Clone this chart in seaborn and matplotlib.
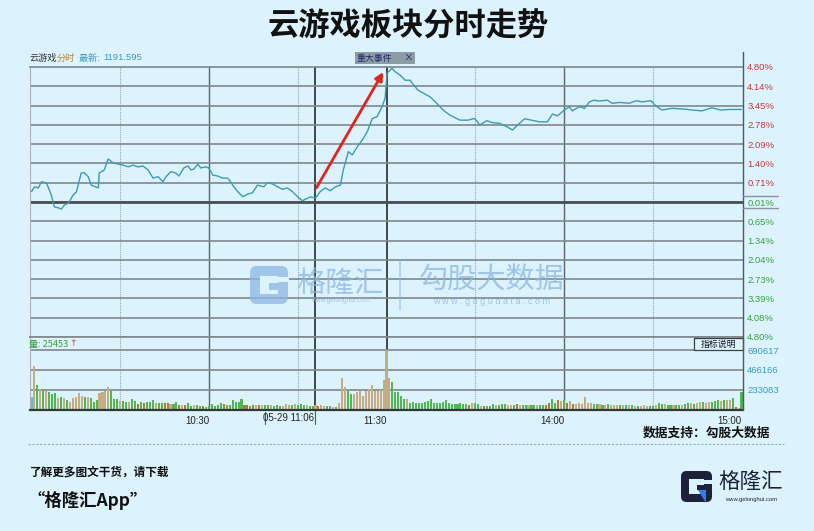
import matplotlib
matplotlib.use("Agg")
import matplotlib.pyplot as plt
from matplotlib.patches import Rectangle, FancyBboxPatch, Polygon
import numpy as np
import pandas as pd
import seaborn as sns

sns.set_style("white")
plt.rcParams["font.family"] = ["Noto Sans CJK SC", "DejaVu Sans"]

# ---- data ----
price_min = [0, 1.0, 2.3, 3.4, 5.1, 6.7, 7.7, 9.1, 10.1, 11.1, 12.5, 14.1, 15.2, 16.8, 17.8,
             19.2, 20.2, 22.6, 22.9, 24.6, 25.9, 27.6, 29.3, 31.0, 32.7, 34.3, 36.0, 37.7,
             39.4, 41.1, 42.8, 44.4, 45.5, 47.1, 48.8, 49.8, 51.5, 52.9, 53.9, 54.9, 56.2,
             57.2, 58.9, 59.9, 61.3, 63.0, 64.6, 66.3, 67.3, 68.4, 69.7, 71.4, 73.1, 74.7,
             76.4, 78.5, 79.8, 81.5, 83.2, 84.8, 86.5, 88.2, 89.9, 91.6, 92.6, 94.3, 96.0,
             97.6, 99.3, 101.0, 102.7, 104.4, 105.4, 107.1, 108.4, 110.1, 111.8, 113.5,
             115.2, 116.8, 118.5, 119.5, 120.2, 121.9, 122.9, 124.6, 126.3, 127.9, 130.6,
             134.7, 137.0, 139.1, 141.4, 144.8, 147.5, 149.8, 151.5, 153.9, 155.9, 158.2,
             160.6, 162.6, 165.0, 166.7, 169.0, 171.7, 174.4, 176.1, 177.8, 180.1, 181.8,
             182.8, 185.2, 186.9, 188.6, 190.2, 191.9, 194.6, 196.3, 198.7, 202.0, 204.4,
             206.4, 209.4, 211.1, 213.1, 216.5, 221.2, 223.2, 226.6, 230.0, 233.0, 235.7,
             240.0]
price_pct = [0.37, 0.54, 0.50, 0.72, 0.67, 0.25, -0.17, -0.21, -0.25, -0.11, -0.04, 0.25,
             0.36, 1.03, 1.04, 0.90, 0.60, 0.50, 1.03, 1.14, 1.53, 1.39, 1.35, 1.31, 1.25,
             1.31, 1.25, 1.28, 1.14, 0.85, 0.90, 0.72, 0.90, 1.08, 1.03, 0.92, 1.21, 1.28,
             1.14, 1.17, 1.35, 1.21, 1.25, 1.21, 0.96, 0.92, 0.85, 0.85, 0.72, 0.54, 0.37,
             0.19, 0.28, 0.33, 0.60, 0.54, 0.69, 0.64, 0.54, 0.45, 0.50, 0.37, 0.19, 0.04,
             0.10, 0.18, 0.14, 0.37, 0.50, 0.40, 0.54, 0.60, 1.14, 1.79, 1.67, 1.96, 2.20,
             2.50, 2.97, 3.03, 3.39, 3.68, 4.58, 4.76, 4.63, 4.51, 4.33, 4.33, 3.98, 3.74,
             3.51, 3.27, 3.09, 2.91, 2.91, 2.97, 2.74, 2.89, 2.82, 2.80, 2.68, 2.56, 2.80,
             2.96, 2.91, 2.85, 2.85, 3.13, 3.06, 3.27, 3.39, 3.24, 3.39, 3.33, 3.56, 3.62,
             3.59, 3.62, 3.51, 3.54, 3.51, 3.60, 3.56, 3.60, 3.41, 3.27, 3.33, 3.30, 3.27,
             3.24, 3.35, 3.27, 3.29, 3.29]

# volume per minute (thousands), one bar per minute 9:30 .. 15:00
vol_k = [144, 505, 291, 241, 229, 214, 202, 183, 198, 136, 152, 136, 113, 97, 136, 152, 190,
         163, 152, 152, 136, 93, 113, 190, 210, 221, 268, 214, 132, 132, 105, 105, 97, 89,
         124, 105, 74, 97, 85, 93, 93, 120, 85, 78, 85, 78, 78,
         74, 66, 93, 54, 58, 58, 78, 43, 54, 54, 47, 47, 35, 47, 66, 43, 62, 85, 66, 54, 54,
         113, 97, 97, 124, 62, 62, 47, 54, 62, 54, 54, 54, 54, 54, 43, 54, 47, 43, 66, 58,
         54, 74, 58, 66, 54, 58, 47, 43,
         54, 51, 54, 51, 43, 43, 35, 35, 78, 369, 260, 221, 183, 183, 202, 218, 163, 218,
         241, 287, 214, 218, 233, 350, 690, 369, 319, 202, 202, 163, 132, 124, 85, 93, 85,
         85, 85, 93, 105, 124, 85, 85, 82, 93, 113, 85, 74, 66,
         74, 85, 66, 66, 58, 78, 85, 66, 47, 47, 47, 47, 66, 58, 62, 66, 66, 54, 62, 62, 74,
         58, 54, 62, 54, 62, 54, 62, 54, 62, 54, 85, 124, 78, 120, 105, 113, 85, 105, 66, 74,
         82, 74, 144, 82, 82, 66,
         66, 66, 58, 62, 66, 58, 54, 58, 62, 54, 54, 62, 62, 47, 51, 47, 62, 51, 51, 51, 62,
         82, 66, 66, 54, 54, 54, 62, 54, 62, 74, 82, 82, 74, 82, 93, 93, 85, 93, 93, 105,
         113, 105, 113, 120, 120, 136, 35, 23, 202]
# bar colour kind: g=down (green), t=up (tan), d=up dark, b=opening
vol_kind = list(
    "btgtg" "tgggt" "gtgtt" "tttgt" "gggtt" "ttggg" "tggtg" "gdgdg" "ggtgg" "dd"
    "tggdt" "dggtg" "gdggg" "gggdg" "ggggg" "ddgdt" "dtggt" "gggtt" "tgtgg" "gtgg"
    "tdttg" "gtgtt" "tggtt" "ttttt" "ttttt" "tgggg" "gtggg" "ggggg" "ggggg" "ggg"
    "ggggd" "tggtd" "gggtg" "ggttg" "dtggt" "ggtgg" "ddggd" "tgdtd" "ttttt" "tg"
    "gtgtg" "tttgt" "gt" "gtgtt" "tggtg" "gtggt" "ggtgg" "tgttg" "ttggg" "tgttg" "dtg"
)
vol_min = list(range(len(vol_k)))

pct_labels = ["4.80%", "4.14%", "3.45%", "2.78%", "2.09%", "1.40%", "0.71%", "0.01%",
              "0.65%", "1.34%", "2.04%", "2.73%", "3.39%", "4.08%", "4.80%"]
vol_ticks = [233.083, 466.166, 690.617]
vol_tick_labels = ["233083", "466166", "690617"]
time_ticks = [60, 120, 180, 240]
time_labels = ["10:30", "11:30", "14:00", "15:00"]
arrow_from = (96.3, 0.50)
arrow_to = (118.9, 4.62)

# ---- style ----
BG = "#DCF3FD"
GRID = "#7E878C"
LINE = "#3C9BB0"
RED = "#C2393B"
GREEN = "#38A03A"
TEAL = "#3C9BB4"
bar_colors = {"g": "#52B653", "t": "#C6AC80", "d": "#B07A34", "b": "#74B6CF"}
NUM_FONT = ["Liberation Sans", "DejaVu Sans"]

W, H = 814, 531
fig = plt.figure(figsize=(W / 100, H / 100), dpi=100, facecolor=BG)


def px_box(x0, y0, x1, y1):
    return [x0 / W, 1 - y1 / H, (x1 - x0) / W, (y1 - y0) / H]


ax_p = fig.add_axes(px_box(30, 67, 743, 337))
ax_v = fig.add_axes(px_box(30, 337, 743, 410))
ov = fig.add_axes([0, 0, 1, 1], zorder=10)
ov.set_xlim(0, W)
ov.set_ylim(H, 0)
ov.axis("off")

for ax in (ax_p, ax_v):
    ax.set_facecolor(BG)
    ax.set_xlim(-0.5, 240.5)
    for m in (30, 90, 150, 210):
        ax.axvline(m, color="#9AA3A8", lw=0.8, ls=(0, (1, 1)), zorder=1)
    for m in (60, 180):
        ax.axvline(m, color="#5E6468", lw=1.0, zorder=1)
    for m in (96, 120):
        ax.axvline(m, color="#33383B", lw=1.3, zorder=1)
    ax.spines["right"].set_visible(False)
    ax.spines["left"].set_color("#A9B3B8")
    ax.spines["left"].set_linewidth(0.8)
    ax.spines["top"].set_color(GRID)
    ax.spines["top"].set_linewidth(1.2)

# ---- price panel ----
ax_p.set_ylim(-4.8, 4.8)
levels = np.linspace(4.8, -4.8, 15)
for lv in levels[1:-1]:
    ax_p.axhline(lv, color=GRID, lw=1.2, zorder=1)
ax_p.axhline(0, color="#4B5053", lw=2.0, zorder=1)
ax_p.spines["bottom"].set_color(GRID)
ax_p.spines["bottom"].set_linewidth(1.2)

sns.lineplot(x=price_min, y=price_pct, ax=ax_p, color=LINE, lw=1.0, zorder=3)

ax_p.yaxis.tick_right()
ax_p.set_yticks(levels)
ax_p.set_yticklabels(pct_labels, fontfamily=NUM_FONT, fontsize=6.8)
for i, lab in enumerate(ax_p.get_yticklabels()):
    lab.set_color(RED if i < 7 else GREEN)
ax_p.tick_params(axis="y", length=0, pad=3)
ax_p.set_xticks([])
ax_p.set_xlabel("")
ax_p.set_ylabel("")

ax_p.annotate("", xy=arrow_to, xytext=arrow_from,
              arrowprops=dict(arrowstyle="-|>", color="#E3231E", lw=2.0,
                              mutation_scale=12, shrinkA=0, shrinkB=0), zorder=5)

# ---- volume panel ----
vol_df = pd.DataFrame({"minute": vol_min, "vol": vol_k, "kind": vol_kind})
sns.barplot(data=vol_df, x="minute", y="vol", hue="kind", palette=bar_colors,
            native_scale=True, dodge=False, width=0.7, errorbar=None, legend=False,
            saturation=1, linewidth=0, ax=ax_v, zorder=2)
ax_v.set_xlim(-0.5, 240.5)
ax_v.set_ylim(0, 690.617 * 73 / 60)
for v in vol_ticks:
    ax_v.axhline(v, color=GRID, lw=1.2, zorder=1)
ax_v.spines["bottom"].set_color("#33383B")
ax_v.spines["bottom"].set_linewidth(1.6)
ax_v.yaxis.tick_right()
ax_v.set_yticks(vol_ticks)
ax_v.set_yticklabels(vol_tick_labels, fontfamily=NUM_FONT, fontsize=6.8, color=TEAL)
ax_v.tick_params(axis="y", length=0, pad=3)
ax_v.set_xticks(time_ticks)
ax_v.set_xticklabels(time_labels, fontfamily=NUM_FONT, fontsize=7, color="#222222")
for lab in ax_v.get_xticklabels():
    lab.set_ha("right")
ax_v.tick_params(axis="x", length=3, width=0.8, color="#333333", pad=1)
ax_v.set_xlabel("")
ax_v.set_ylabel("")

# ---- overlay: texts and decorations in pixel coordinates ----
ov.plot([743, 743], [52, 410], color="#50575B", lw=1.0)
ov.plot([743, 778], [196, 196], color="#8A9398", lw=1.0)
ov.plot([743, 778], [208, 208], color="#8A9398", lw=1.0)

ov.text(408, 27, "云游戏板块分时走势", ha="center", va="center", fontsize=22.5,
        fontweight="bold", color="#111111")

ov.text(29, 58, "云游戏", ha="left", va="center", fontsize=6.6, color="#333333")
ov.text(57, 58, "分时", ha="left", va="center", fontsize=6.6, color="#B08A3E")
ov.text(79, 58, "最新: ", ha="left", va="center", fontsize=6.6, color=TEAL)
ov.text(103, 58, "1191.595", ha="left", va="center", fontsize=6.8, color=TEAL,
        fontfamily=NUM_FONT)

ov.add_patch(Rectangle((355, 52), 60, 12, fc="#8E9CA5", ec="none"))
ov.text(374, 58, "重大事件", ha="center", va="center", fontsize=6.4, color="#1E2A6A")
ov.text(408, 58, "×", ha="center", va="center", fontsize=7, color="#1E2A6A")

ov.text(29, 344, "量: 25453", ha="left", va="center", fontsize=6.6, color=GREEN)
ov.text(69, 344, "↑", ha="left", va="center", fontsize=6.6, color="#E04040",
        fontfamily=["DejaVu Sans"])
ov.add_patch(Rectangle((694, 338), 49, 12, fc=BG, ec="#3A3F42", lw=0.9))
ov.text(718, 344, "指标说明", ha="center", va="center", fontsize=6.4, color="#111111")

ov.plot([315, 315], [411, 424], color="#555555", lw=0.8)
ov.text(314, 418, "05-29 11:06", ha="right", va="center", fontsize=7, color="#222222",
        fontfamily=NUM_FONT)
ov.plot([265, 265], [412, 424], color="#555555", lw=0.8)


def g_logo(x, y, s, color, accent=None, alpha=1.0):
    ov.add_patch(FancyBboxPatch((x, y), s, s, boxstyle=f"round,pad=0,rounding_size={s * 0.18}",
                                fc=color, ec="none", alpha=alpha))
    ov.add_patch(Rectangle((x + 0.27 * s, y + 0.27 * s), 0.46 * s, 0.46 * s, fc=BG, ec="none"))
    ov.add_patch(Rectangle((x + 0.72 * s, y + 0.30 * s), 0.3 * s, 0.12 * s, fc=BG, ec="none"))
    ov.add_patch(Rectangle((x + 0.50 * s, y + 0.46 * s), 0.24 * s, 0.16 * s, fc=color,
                           ec="none", alpha=alpha))
    if accent:
        ov.add_patch(Polygon([(x + 0.55 * s, y + 0.62 * s), (x + 0.80 * s, y + 0.62 * s),
                              (x + 0.80 * s, y + 1.02 * s)], closed=True, fc=accent, ec="none"))


# watermark
WM = "#8DB6E2"
g_logo(250, 266, 38, WM, alpha=0.75)
ov.text(340, 284, "格隆汇", ha="center", va="center", fontsize=21, color=WM, alpha=0.75)
ov.text(340, 301, "www.gelonghui.com", ha="center", va="center", fontsize=4.8, color=WM,
        alpha=0.8, fontfamily=NUM_FONT)
ov.plot([400, 400], [260, 310], color=WM, lw=1.2, alpha=0.6)
ov.text(492, 281, "勾股大数据", ha="center", va="center", fontsize=21, color=WM, alpha=0.75)
ov.text(492, 301, "w w w . g o g u d a t a . c o m", ha="center", va="center", fontsize=6.5,
        color=WM, alpha=0.8, fontfamily=NUM_FONT)

# footer
ov.text(770, 433, "数据支持：勾股大数据", ha="right", va="center", fontsize=9.2,
        fontweight="bold", color="#111111")
ov.plot([28, 784], [444, 444], color="#9AA8AE", lw=0.8, ls=(0, (2, 1.5)))
ov.text(30, 472, "了解更多图文干货，请下载", ha="left", va="center", fontsize=8.4,
        fontweight="bold", color="#111111")
ov.text(27, 500, "“格隆汇App”", ha="left", va="center", fontsize=12.5,
        fontweight="bold", color="#111111")

g_logo(681, 471, 31, "#1B2239", accent="#2F7BF0")
ov.text(751, 483, "格隆汇", ha="center", va="center", fontsize=15.5, color="#1B2239")
ov.text(751, 499, "www.gelonghui.com", ha="center", va="center", fontsize=4.2,
        color="#1B2239", fontfamily=NUM_FONT)

fig.savefig("out.png", dpi=100, facecolor=BG)
